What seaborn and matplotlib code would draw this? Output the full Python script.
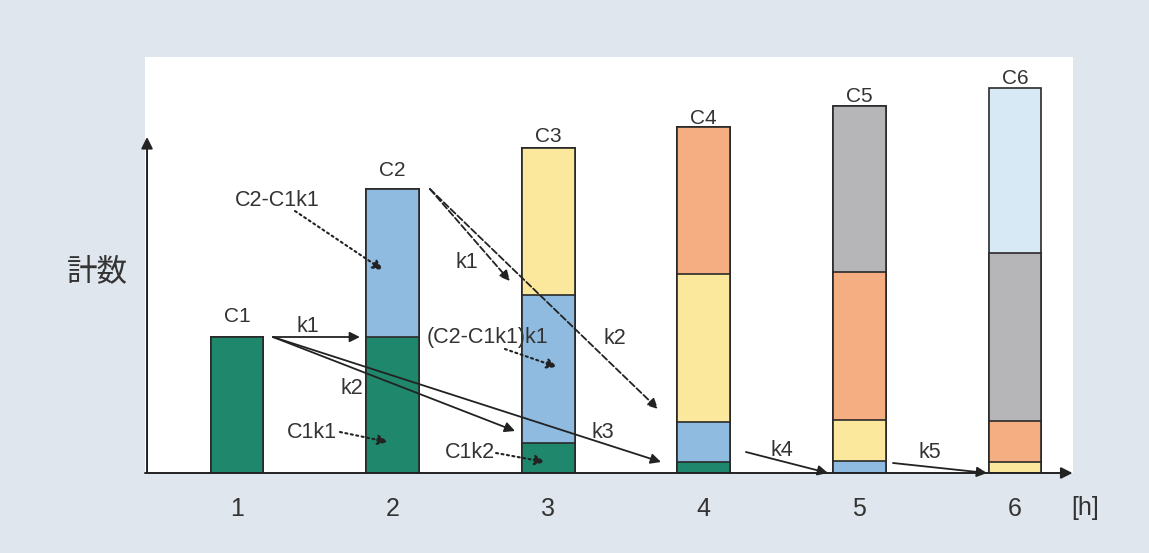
import pandas as pd
import matplotlib.pyplot as plt
import seaborn as sns

# Hours on the x axis and counts per cohort (oldest cohort at the bottom)
hours = ['1', '2', '3', '4', '5', '6']
cohort_c1 = [136, 136, 30, 11, 0, 0]
cohort_c2 = [0, 148, 148, 40, 12, 0]
cohort_c3 = [0, 0, 147, 148, 41, 11]
cohort_c4 = [0, 0, 0, 147, 148, 41]
cohort_c5 = [0, 0, 0, 0, 166, 168]
cohort_c6 = [0, 0, 0, 0, 0, 165]
bar_labels = ['C1', 'C2', 'C3', 'C4', 'C5', 'C6']

cohorts = [cohort_c1, cohort_c2, cohort_c3, cohort_c4, cohort_c5, cohort_c6]
colors = ['#1f876b', '#8fbbe0', '#fbe89c', '#f4ae82', '#b6b6b9', '#d8e9f6']

df = pd.DataFrame({'hour': hours})
running = [0] * len(hours)
for i, c in enumerate(cohorts):
    running = [a + b for a, b in zip(running, c)]
    df[f'cum{i}'] = running
df['total'] = running

sns.set_theme(style='white')
plt.rcParams['font.family'] = ['Liberation Sans', 'Noto Sans CJK JP', 'DejaVu Sans']

bg = '#dfe6ee'
ink = '#222222'
txt = '#333333'
fig = plt.figure(figsize=(11.49, 5.53), dpi=100, facecolor=bg)
ax = fig.add_axes([145 / 1149, 80 / 553, 928 / 1149, 416 / 553])
ax.set_facecolor('white')

# stacked bars: draw the cumulative totals from the top layer down
for i in reversed(range(len(cohorts))):
    sns.barplot(data=df, x='hour', y=f'cum{i}', order=hours, color=colors[i],
                saturation=1, width=0.34, edgecolor='#2a2a2a', linewidth=1.2, ax=ax)

ax.set_xlim(-0.591, 5.373)
ax.set_ylim(0, 416)
for s in ax.spines.values():
    s.set_visible(False)
ax.set_yticks([])
ax.set_xlabel('')
ax.set_ylabel('')
ax.tick_params(axis='x', length=0, pad=17, labelsize=18, labelcolor=txt)

# axes drawn as arrows
head = dict(arrowstyle='-|>', color=ink, lw=1.4, mutation_scale=17, shrinkA=0, shrinkB=0)
ax.annotate('', xy=(-0.578, 336), xytext=(-0.578, 0), arrowprops=head, annotation_clip=False)
ax.annotate('', xy=(5.37, 0), xytext=(-0.591, 0), arrowprops=head, annotation_clip=False)

# bar labels
label_y = [157, 303, 336, 355, 376, 395]
for i, lab in enumerate(bar_labels):
    ax.text(i, label_y[i], lab, ha='center', va='center', fontsize=15, color=txt)

def arrow(start, end, style='-'):
    props = dict(arrowstyle='-|>', color=ink, lw=1.5 if style == ':' else 1.3,
                 mutation_scale=15, shrinkA=0, shrinkB=0, linestyle=style)
    ax.annotate('', xy=end, xytext=start, arrowprops=props)

def label(x, y, s):
    ax.text(x, y, s, ha='center', va='center', fontsize=15.5, color=txt)

# transitions out of C1
c1_top = df['total'][0]
arrow((0.231, c1_top), (0.790, c1_top))
label(0.456, 146, 'k1')
arrow((0.231, c1_top), (1.787, 42))
label(0.739, 84, 'k2')
arrow((0.231, c1_top), (2.725, 11))
label(2.352, 40, 'k3')

# transitions out of C2
c2_top = df['total'][1]
arrow((1.240, c2_top), (1.754, 192), '--')
label(1.478, 210, 'k1')
arrow((1.240, c2_top), (2.706, 64), '--')
label(2.429, 135, 'k2')

# component labels
label(0.257, 273, 'C2-C1k1')
arrow((0.373, 262), (0.938, 203), ':')
label(1.607, 135, '(C2-C1k1)k1')
arrow((1.722, 124), (2.057, 106), ':')
label(0.482, 40, 'C1k1')
arrow((0.662, 41), (0.970, 31), ':')
label(1.497, 20, 'C1k2')
arrow((1.665, 20), (1.979, 11), ':')

# later transitions
arrow((3.271, 21), (3.798, 0))
label(3.503, 22, 'k4')
arrow((4.216, 10), (4.820, 0))
label(4.454, 21, 'k5')

fig.text(1085 / 1149, 1 - 508 / 553, '[h]', ha='center', va='center', fontsize=18, color=txt)
fig.text(97 / 1149, 1 - 272 / 553, '計数', ha='center', va='center', fontsize=22,
         color=txt, family=['Noto Sans CJK JP', 'DejaVu Sans'])

fig.savefig('out.png', dpi=100, facecolor=bg)
